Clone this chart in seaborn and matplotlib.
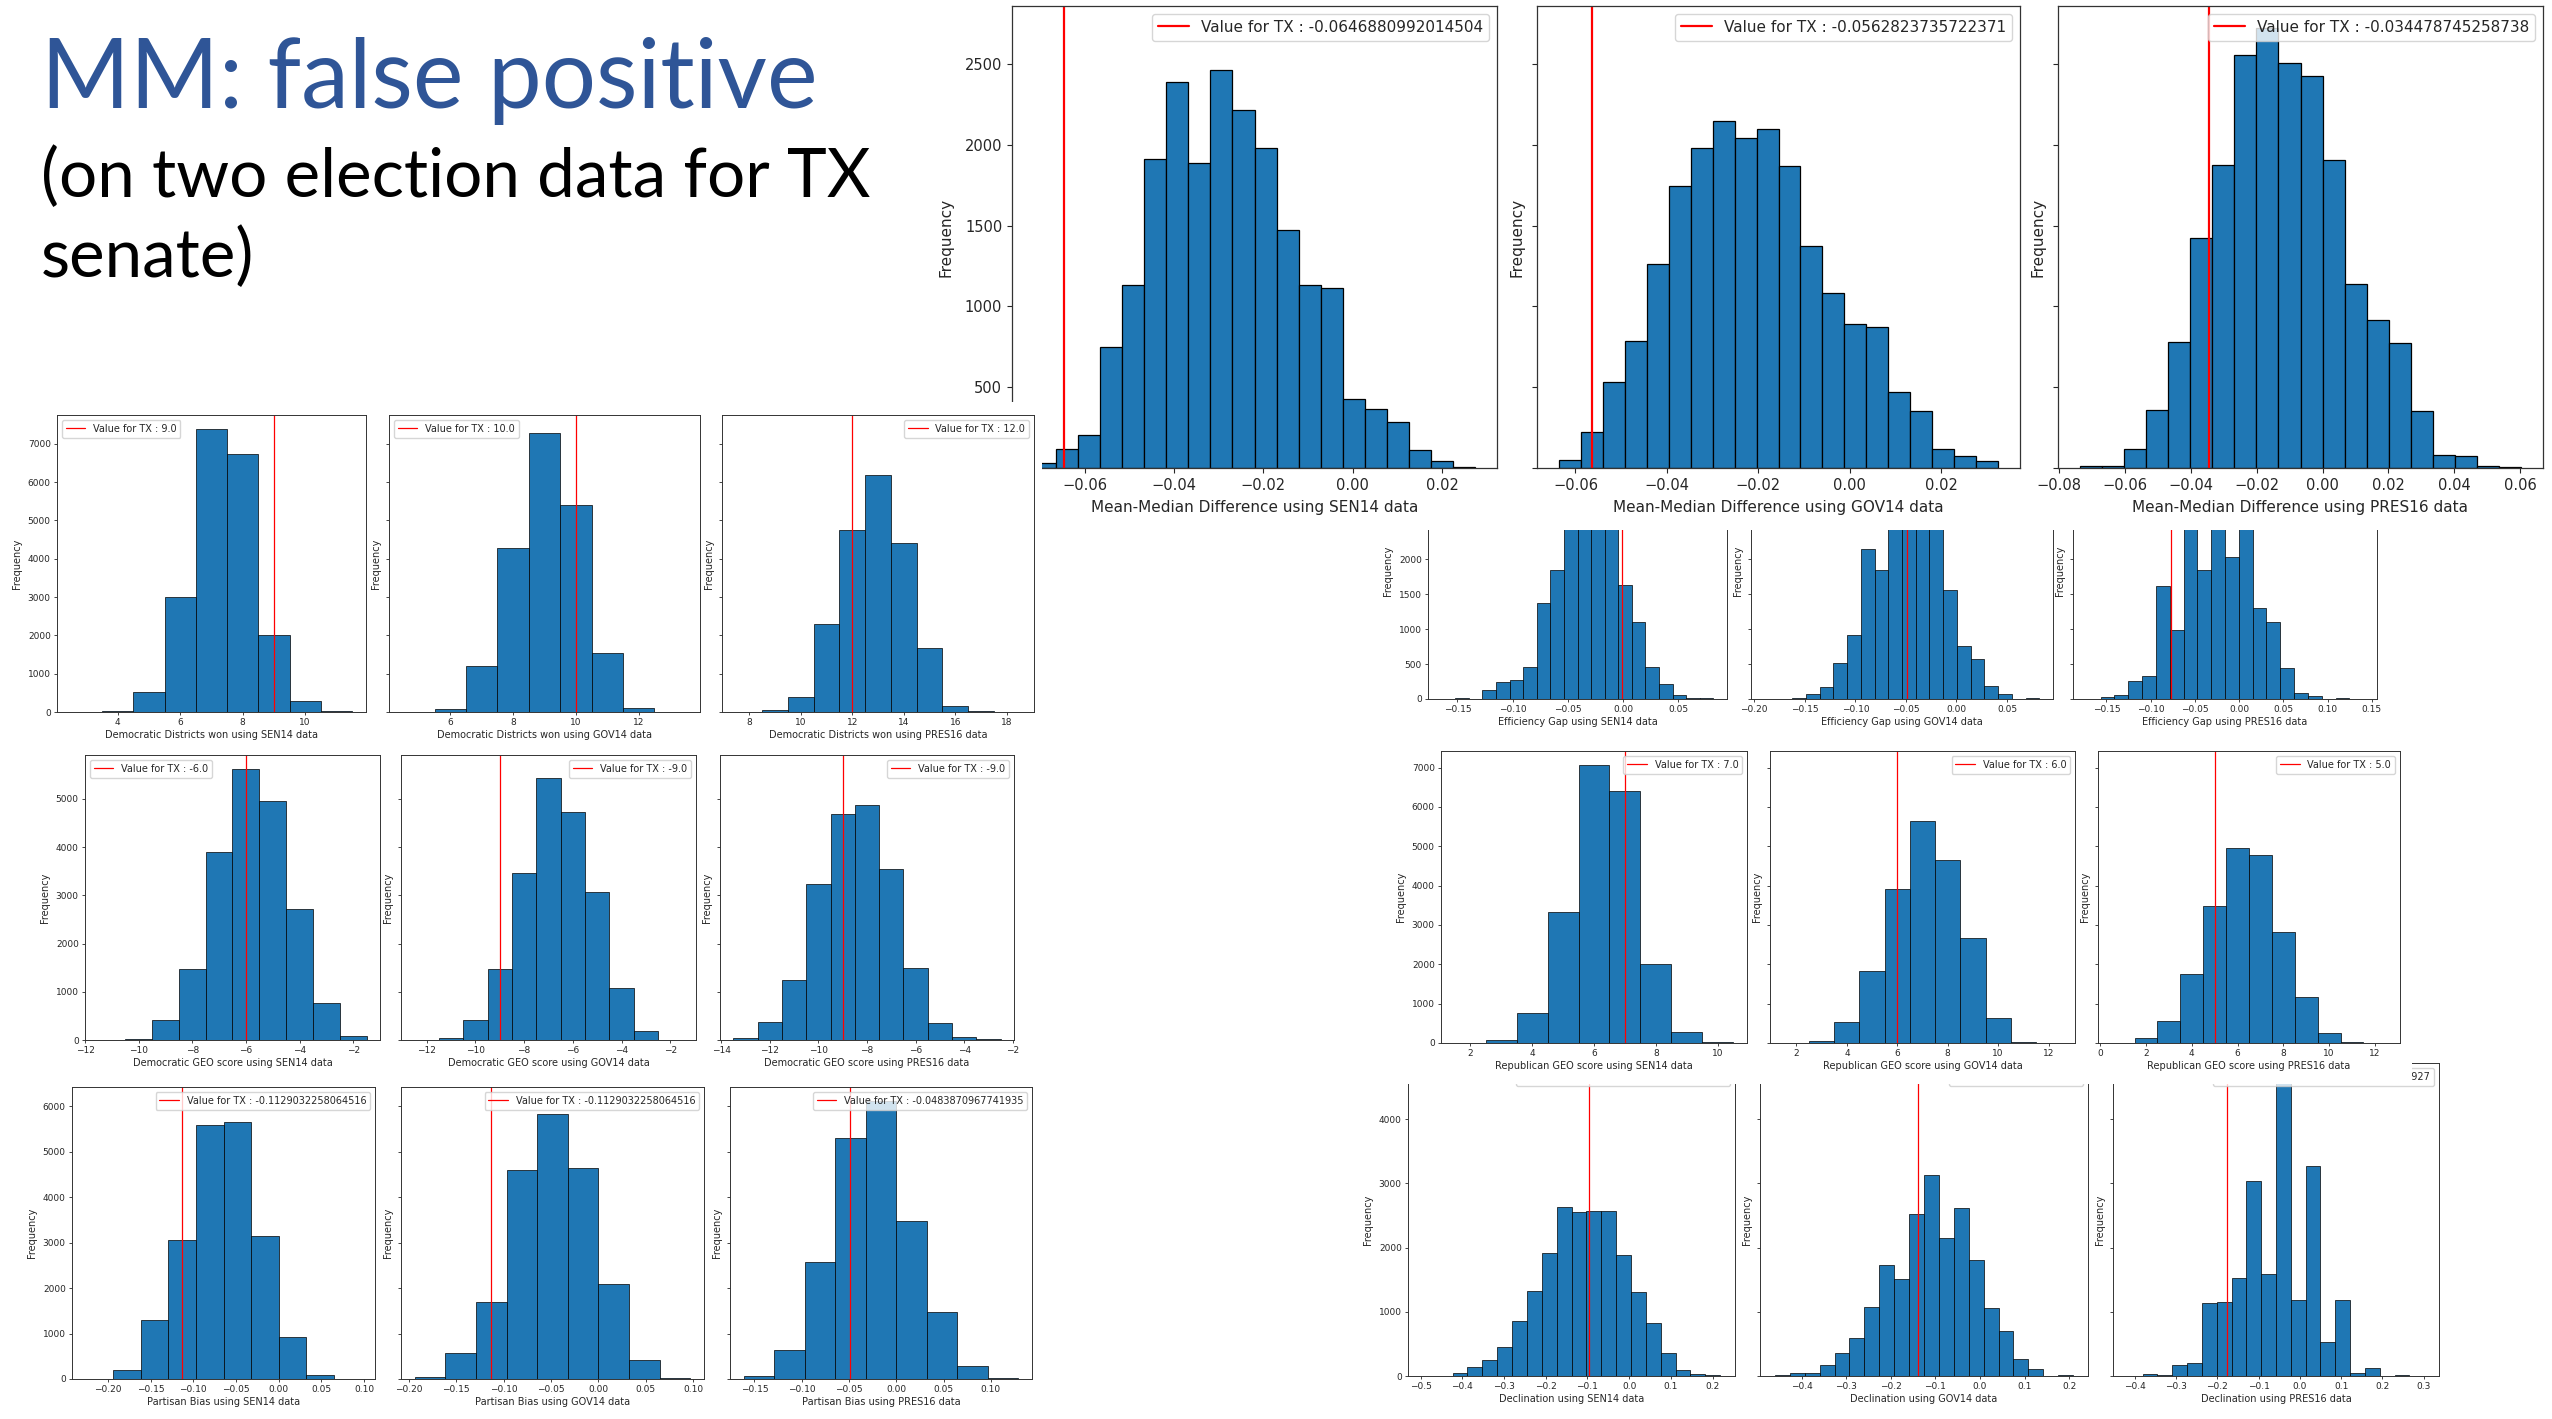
import matplotlib
matplotlib.use('Agg')
import matplotlib.pyplot as plt
import matplotlib.patches as mpatches
from matplotlib.ticker import MultipleLocator
import numpy as np
import seaborn as sns

W, H = 2552, 1419

elections = ['SEN14', 'GOV14', 'PRES16']

# Mean-Median Difference (big panels, top right)
mm_sen14 = [31, 117, 202, 751, 1132, 1912, 2389, 1885, 2463, 2212, 1979, 1475, 1132, 1115, 426, 368, 286, 109, 41, 6]
mm_gov14 = [51, 220, 535, 788, 1263, 1743, 1979, 2146, 2043, 2099, 1866, 1372, 1084, 891, 870, 469, 352, 117, 72, 41]
mm_pres16 = [10, 10, 117, 360, 780, 1422, 1877, 2556, 2722, 2508, 2424, 1903, 1140, 916, 772, 350, 82, 72, 14, 6]
mm_range = [(-0.0713, 0.0273), (-0.0636, 0.0324), (-0.0737, 0.0603)]
mm_tx = [-0.0646880992014504, -0.0562823735722371, -0.034478745258738]

# Efficiency Gap (partly hidden under the big panels)
eg_sen14 = [1, 15, 0, 134, 248, 277, 458, 1370, 1838, 2600, 3200, 3400, 2974, 1628, 1098, 458, 210, 62, 19, 10]
eg_gov14 = [1, 0, 10, 67, 167, 520, 912, 2138, 1838, 2600, 3000, 2950, 2636, 1561, 764, 568, 186, 67, 0, 15]
eg_pres16 = [1, 24, 52, 258, 334, 1620, 990, 3200, 1838, 3500, 2024, 3160, 1308, 1102, 439, 91, 48, 0, 10, 1]
eg_range = [(-0.1643, 0.0816), (-0.1896, 0.0819), (-0.1722, 0.1403)]
eg_tx = [-0.0012, -0.0487, -0.0774]

# Democratic Districts won
dd_sen14 = [2, 20, 520, 3000, 7380, 6730, 2010, 280, 20]
dd_gov14 = [2, 90, 1200, 4270, 7280, 5390, 1550, 110, 2]
dd_pres16 = [1, 50, 380, 2290, 4760, 6175, 4415, 1660, 165, 17, 1]
dd_range = [(2.5, 11.5), (4.5, 13.5), (7.5, 18.5)]
dd_tx = [9.0, 10.0, 12.0]

# Democratic GEO score
dg_sen14 = [2, 20, 422, 1468, 3906, 5630, 4965, 2715, 776, 76]
dg_gov14 = [1, 42, 422, 1482, 3456, 5443, 4730, 3061, 1080, 187, 1]
dg_pres16 = [48, 381, 1253, 3234, 4695, 4882, 3539, 1503, 346, 62, 20]
dg_range = [(-11.5, -1.5), (-12.5, -1.5), (-13.5, -2.5)]
dg_tx = [-6.0, -9.0, -9.0]

# Partisan Bias
pb_sen14 = [1, 205, 1306, 3067, 5583, 5649, 3155, 917, 95, 1]
pb_gov14 = [37, 572, 1687, 4608, 5825, 4651, 2084, 425, 15]
pb_pres16 = [73, 646, 2568, 5305, 6120, 3485, 1475, 293, 15]
pb_range = [(-0.22581, 0.09677), (-0.19355, 0.09677), (-0.16129, 0.12903)]
pb_tx = [-0.1129032258064516, -0.1129032258064516, -0.0483870967741935]

# Republican GEO score
rg_sen14 = [1, 68, 770, 3322, 7067, 6416, 2020, 279, 17]
rg_gov14 = [1, 42, 533, 1834, 3914, 5647, 4658, 2680, 626, 17, 1]
rg_pres16 = [1, 127, 549, 1758, 3491, 4945, 4776, 2823, 1175, 254, 17, 1]
rg_range = [(1.5, 10.5), (1.5, 12.5), (0.5, 12.5)]
rg_tx = [7.0, 6.0, 5.0]

# Declination
dc_sen14 = [1, 0, 52, 140, 249, 446, 856, 1328, 1914, 2630, 2553, 2578, 2578, 1883, 1313, 820, 363, 93, 31, 16]
dc_gov14 = [10, 47, 47, 171, 363, 586, 1079, 1728, 1505, 2532, 3139, 2158, 2615, 1800, 1064, 700, 270, 109, 0, 10]
dc_pres16 = [1, 26, 16, 171, 197, 1141, 1157, 1530, 3045, 1588, 4645, 1188, 3274, 534, 1188, 41, 125, 0, 16, 1]
dc_range = [(-0.4944, 0.218), (-0.4597, 0.2085), (-0.4166, 0.301)]
dc_tx = [-0.0967741935483871, -0.139, -0.17741935483870927]

sns.set_style('ticks')
plt.rcParams['font.family'] = ['DejaVu Sans']

fig = plt.figure(figsize=(W / 100, H / 100), dpi=100)


def box(x0, y0, x1, y1):
    return [x0 / W, 1 - y1 / H, (x1 - x0) / W, (y1 - y0) / H]


def cover(x0, y0, x1, y1, z):
    fig.add_artist(mpatches.Rectangle((x0 / W, 1 - y1 / H), (x1 - x0) / W, (y1 - y0) / H,
                                      transform=fig.transFigure, facecolor='white',
                                      edgecolor='none', zorder=z))


def hist_panel(rect, counts, rng, tx, xlabel, ymax, xstep, ystep, loc,
               big=False, yticklabels=True, z=3):
    ax = fig.add_axes(box(*rect))
    ax.set_zorder(z)
    lo, hi = rng
    n = len(counts)
    centers = lo + (np.arange(n) + 0.5) * (hi - lo) / n
    fs = 11 if big else 7
    tfs = 10.5 if big else 6.5
    sns.histplot(x=centers, weights=counts, bins=n, binrange=(lo, hi), ax=ax,
                 color='#1f77b4', alpha=1, edgecolor='black',
                 linewidth=0.9 if big else 0.5)
    ax.axvline(tx, color='red', lw=1.6 if big else 0.9, label='Value for TX : ' + str(tx))
    pad = (hi - lo) * 0.05
    ax.set_xlim(lo - pad, hi + pad)
    ax.set_ylim(0, ymax)
    ax.xaxis.set_major_locator(MultipleLocator(xstep))
    ax.yaxis.set_major_locator(MultipleLocator(ystep))
    ax.tick_params(labelsize=tfs, length=3.5 if big else 2.5, width=0.8 if big else 0.6,
                   pad=3.5 if big else 2, colors='#262626')
    for s in ax.spines.values():
        s.set_visible(True)
        s.set_color('#333333')
        s.set_linewidth(0.9 if big else 0.7)
    ax.set_xlabel(xlabel, fontsize=fs, color='#262626', labelpad=5 if big else 2)
    if yticklabels:
        ax.set_ylabel('Frequency', fontsize=fs, color='#262626', labelpad=8 if big else 4)
    else:
        ax.set_yticklabels([])
        ax.set_ylabel('Frequency', fontsize=fs, color='#262626', labelpad=2 if big else 1)
    ax.legend(loc=loc, fontsize=11 if big else 7, frameon=True, fancybox=True,
              framealpha=0.8, edgecolor='0.8', borderaxespad=0.5)
    return ax


# efficiency gap row, drawn first so the big panels sit over it
eg_counts = [eg_sen14, eg_gov14, eg_pres16]
eg_boxes = [(1428, 442, 1727, 699), (1751, 442, 2053, 699), (2073, 442, 2377, 699)]
eg_max = max(max(c) for c in eg_counts) * 1.05
for i in range(3):
    hist_panel(eg_boxes[i], eg_counts[i], eg_range[i], eg_tx[i],
               'Efficiency Gap using ' + elections[i] + ' data', eg_max, 0.05, 500,
               'upper right', yticklabels=(i == 0), z=1)
cover(1000, 0, 2552, 530, 2)

# mean-median big panels
mm_counts = [mm_sen14, mm_gov14, mm_pres16]
mm_boxes = [(1012, 6, 1497, 468), (1537, 6, 2020, 468), (2058, 6, 2543, 468)]
mm_max = max(max(c) for c in mm_counts) * 1.05
for i in range(3):
    hist_panel(mm_boxes[i], mm_counts[i], mm_range[i], mm_tx[i],
               'Mean-Median Difference using ' + elections[i] + ' data', mm_max, 0.02, 500,
               'upper right', big=True, yticklabels=(i == 0), z=3)

# democratic districts won (this image sits on top of the big SEN14 panel)
cover(0, 402, 1042, 745, 4)
dd_counts = [dd_sen14, dd_gov14, dd_pres16]
dd_boxes = [(57, 415, 366, 712), (389, 415, 700, 712), (722, 415, 1034, 712)]
dd_locs = ['upper left', 'upper left', 'upper right']
dd_max = max(max(c) for c in dd_counts) * 1.05
for i in range(3):
    hist_panel(dd_boxes[i], dd_counts[i], dd_range[i], dd_tx[i],
               'Democratic Districts won using ' + elections[i] + ' data', dd_max, 2, 1000,
               dd_locs[i], yticklabels=(i == 0), z=5)

# democratic GEO score
dg_counts = [dg_sen14, dg_gov14, dg_pres16]
dg_boxes = [(85, 755, 380, 1040), (401, 755, 696, 1040), (720, 755, 1014, 1040)]
dg_locs = ['upper left', 'upper right', 'upper right']
dg_max = max(max(c) for c in dg_counts) * 1.05
for i in range(3):
    hist_panel(dg_boxes[i], dg_counts[i], dg_range[i], dg_tx[i],
               'Democratic GEO score using ' + elections[i] + ' data', dg_max, 2, 1000,
               dg_locs[i], yticklabels=(i == 0), z=3)

# partisan bias
pb_counts = [pb_sen14, pb_gov14, pb_pres16]
pb_boxes = [(72, 1087, 375, 1379), (401, 1087, 704, 1379), (730, 1087, 1032, 1379)]
pb_max = max(max(c) for c in pb_counts) * 1.05
for i in range(3):
    hist_panel(pb_boxes[i], pb_counts[i], pb_range[i], pb_tx[i],
               'Partisan Bias using ' + elections[i] + ' data', pb_max, 0.05, 1000,
               'upper right', yticklabels=(i == 0), z=3)

# declination, its top is hidden under the republican GEO image
dc_counts = [dc_sen14, dc_gov14, dc_pres16]
dc_boxes = [(1408, 1063, 1735, 1376), (1760, 1063, 2088, 1376), (2113, 1063, 2439, 1376)]
dc_max = max(max(c) for c in dc_counts) * 1.05
for i in range(3):
    hist_panel(dc_boxes[i], dc_counts[i], dc_range[i], dc_tx[i],
               'Declination using ' + elections[i] + ' data', dc_max, 0.1, 1000,
               'upper right', yticklabels=(i == 0), z=1)
cover(1351, 745, 2412, 1084, 2)

# republican GEO score
rg_counts = [rg_sen14, rg_gov14, rg_pres16]
rg_boxes = [(1441, 751, 1747, 1043), (1770, 751, 2075, 1043), (2098, 751, 2400, 1043)]
rg_max = max(max(c) for c in rg_counts) * 1.05
for i in range(3):
    hist_panel(rg_boxes[i], rg_counts[i], rg_range[i], rg_tx[i],
               'Republican GEO score using ' + elections[i] + ' data', rg_max, 2, 1000,
               'upper right', yticklabels=(i == 0), z=3)

# slide title
fig.text(41 / W, 1 - 108 / H, 'MM: false positive', fontsize=69, color='#2F5597',
         family=['Lato', 'DejaVu Sans'], va='baseline', ha='left')
fig.text(41 / W, 1 - 197 / H, '(on two election data for TX', fontsize=48.5, color='black',
         family=['Lato', 'DejaVu Sans'], va='baseline', ha='left')
fig.text(41 / W, 1 - 277 / H, 'senate)', fontsize=48.5, color='black',
         family=['Lato', 'DejaVu Sans'], va='baseline', ha='left')

fig.savefig('out.png', dpi=100)
